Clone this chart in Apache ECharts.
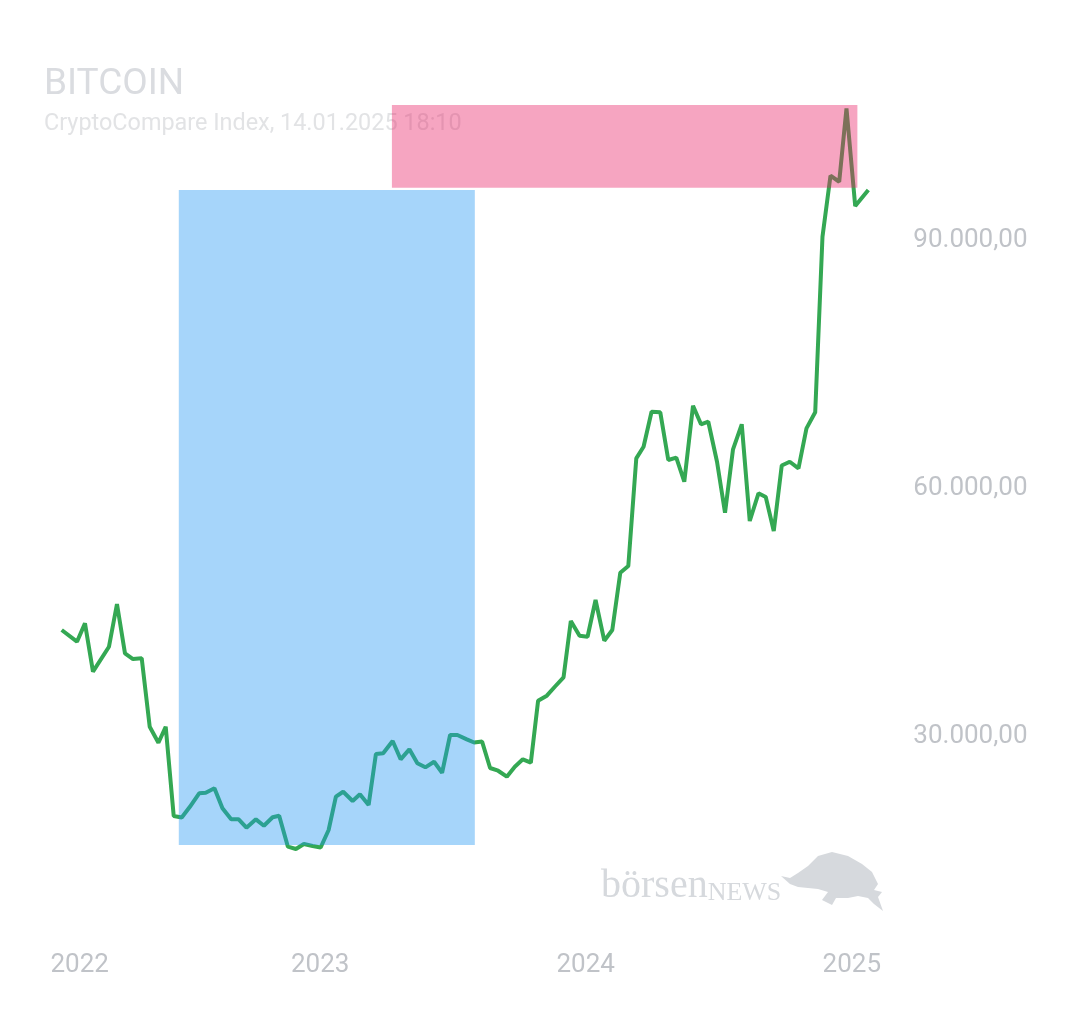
<!DOCTYPE html>
<html>
<head>
<meta charset="utf-8">
<title>Bitcoin</title>
<script src="https://cdn.jsdelivr.net/npm/echarts@6/dist/echarts.min.js"></script>
<style>
  html, body { margin: 0; padding: 0; background: #fff; }
  #chart { width: 1080px; height: 1013px; }
</style>
</head>
<body>
<div id="chart"></div>
<script>
  // Kursverlauf
  var dates = [
    '2022-01-01', '2022-01-22', '2022-02-02', '2022-02-13', '2022-03-07', '2022-03-18', '2022-03-29',
    '2022-04-09', '2022-04-21', '2022-05-02', '2022-05-14', '2022-05-24', '2022-06-04', '2022-06-15',
    '2022-06-26', '2022-07-09', '2022-07-18', '2022-07-30', '2022-08-10', '2022-08-22', '2022-09-01',
    '2022-09-12', '2022-09-25', '2022-10-06', '2022-10-18', '2022-10-27', '2022-11-08', '2022-11-19',
    '2022-11-30', '2022-12-12', '2022-12-23', '2023-01-03', '2023-01-13', '2023-01-23', '2023-02-05',
    '2023-02-15', '2023-02-27', '2023-03-09', '2023-03-19', '2023-04-01', '2023-04-12', '2023-04-24',
    '2023-05-05', '2023-05-16', '2023-05-28', '2023-06-08', '2023-06-19', '2023-06-29', '2023-07-12',
    '2023-07-22', '2023-08-02', '2023-08-13', '2023-08-24', '2023-09-05', '2023-09-16', '2023-09-27',
    '2023-10-08', '2023-10-18', '2023-10-30', '2023-11-10', '2023-11-22', '2023-12-02', '2023-12-14',
    '2023-12-25', '2024-01-05', '2024-01-17', '2024-01-28', '2024-02-08', '2024-02-19', '2024-03-01',
    '2024-03-11', '2024-03-22', '2024-04-03', '2024-04-14', '2024-04-25', '2024-05-06', '2024-05-18',
    '2024-05-29', '2024-06-08', '2024-06-20', '2024-07-01', '2024-07-12', '2024-07-24', '2024-08-04',
    '2024-08-16', '2024-08-26', '2024-09-06', '2024-09-17', '2024-09-28', '2024-10-10', '2024-10-21',
    '2024-11-02', '2024-11-12', '2024-11-23', '2024-12-05', '2024-12-15', '2024-12-27', '2025-01-14'
  ];
  var prices = [
    42820, 41410, 43630, 37780, 40800, 45970, 40000,
    39310, 39400, 31120, 29190, 31120, 20320, 20140,
    21410, 23070, 23140, 23670, 21250, 19920, 19940,
    18910, 19920, 19150, 20170, 20360, 16610, 16330,
    16940, 16690, 16510, 18630, 22660, 23260, 22140,
    22950, 21650, 27820, 27910, 29400, 27180, 28390,
    26700, 26210, 26890, 25560, 30120, 30120, 29600,
    29210, 29330, 26130, 25800, 25080, 26290, 27180,
    26770, 34270, 34880, 35960, 37100, 43910, 42130,
    42010, 46450, 41530, 42820, 49750, 50560, 63590,
    65000, 69230, 69160, 63390, 63670, 60760, 69960,
    67710, 68020, 63180, 57010, 64680, 67710, 56010,
    59360, 58910, 54800, 62720, 63180, 62380, 67220,
    69160, 90400, 97780, 97050, 105930, 94110, 96050
  ];

  // markierte Bereiche
  var boxFrom = ['2022-06-11', '2023-03-31'];
  var boxTo = ['2023-07-23', '2024-12-30'];
  var boxLow = [16810, 96330];
  var boxHigh = [96050, 106330];
  var boxColors = ['rgba(33,150,243,0.4)', 'rgba(233,30,99,0.4)'];

  var yTicks = [30000, 60000, 90000];
  var firstYear = 2022;

  var lineData = dates.map(function (d, i) { return [d, prices[i]]; });
  var boxData = boxFrom.map(function (d, i) { return [d, boxTo[i], boxLow[i], boxHigh[i]]; });

  function fmtDe(v) {
    return v.toLocaleString('de-DE', { minimumFractionDigits: 2, maximumFractionDigits: 2 });
  }

  var chart = echarts.init(document.getElementById('chart'));
  var option = {
    backgroundColor: '#fff',
    animation: false,
    title: {
      text: 'BITCOIN',
      subtext: 'CryptoCompare Index, 14.01.2025 18:10',
      left: 44,
      top: 66,
      padding: 0,
      itemGap: 10,
      z: 0,
      textStyle: { color: '#dadce0', fontSize: 37, fontWeight: 'normal', fontFamily: 'Roboto' },
      subtextStyle: { color: '#e2e3e5', fontSize: 23.4, fontFamily: 'Roboto' }
    },
    grid: { left: 61.7, right: 211.7, top: 74.7, bottom: 29 },
    xAxis: {
      type: 'time',
      min: '2022-01-01',
      max: '2025-01-14',
      axisLine: { show: false },
      axisTick: { show: false },
      splitLine: { show: false },
      axisLabel: {
        margin: -32,
        color: '#c0c3c8',
        fontSize: 26,
        fontFamily: 'Roboto',
        hideOverlap: false,
        formatter: function (val) {
          var d = new Date(val);
          if (d.getMonth() !== 0 || d.getDate() !== 1) return '';
          var y = d.getFullYear();
          return y === firstYear ? '{f|' + y + '}' : '{n|' + y + '}';
        },
        rich: {
          f: { color: '#c0c3c8', fontSize: 26, fontFamily: 'Roboto', padding: [0, 0, 0, 36] },
          n: { color: '#c0c3c8', fontSize: 26, fontFamily: 'Roboto', padding: [0, 14, 0, 0] }
        }
      }
    },
    yAxis: {
      type: 'value',
      position: 'right',
      min: 0,
      max: 110000,
      interval: 30000,
      axisLine: { show: false },
      axisTick: { show: false },
      splitLine: { show: false },
      axisLabel: {
        margin: 45,
        color: '#c0c3c8',
        fontSize: 26,
        fontFamily: 'Roboto',
        showMinLabel: false,
        showMaxLabel: false,
        formatter: function (v) { return yTicks.indexOf(v) >= 0 ? fmtDe(v) : ''; }
      }
    },
    graphic: [
      {
        type: 'text',
        left: 601,
        top: 866,
        z: 0,
        style: {
          text: '{a|börsen}{b|NEWS}',
          rich: {
            a: { fontFamily: 'Liberation Serif', fontSize: 40, lineHeight: 40, verticalAlign: 'bottom', fill: '#d6d9dd' },
            b: { fontFamily: 'Liberation Serif', fontSize: 26, lineHeight: 31, verticalAlign: 'bottom', fill: '#d6d9dd' }
          }
        }
      },
      {
        type: 'polygon',
        z: 0,
        shape: {
          points: [[781, 876], [790, 878], [798, 873], [808, 866], [818, 856], [832, 852], [848, 856],
            [862, 864], [872, 872], [878, 884], [874, 890], [882, 892], [878, 897], [883, 911],
            [874, 904], [868, 898], [858, 896], [848, 898], [836, 898], [832, 905], [822, 900],
            [828, 892], [818, 889], [808, 888], [798, 887], [790, 884]]
        },
        style: { fill: '#d6d9dd' }
      }
    ],
    series: [
      {
        type: 'line',
        data: lineData,
        symbol: 'none',
        z: 2,
        lineStyle: { color: '#34a853', width: 4 }
      },
      {
        type: 'custom',
        z: 10,
        silent: true,
        clip: false,
        dimensions: [{ name: 'from', type: 'time' }, { name: 'to', type: 'time' }, 'low', 'high'],
        encode: { x: [0, 1], y: [2, 3] },
        data: boxData,
        renderItem: function (params, api) {
          var p0 = api.coord([api.value(0), api.value(3)]);
          var p1 = api.coord([api.value(1), api.value(2)]);
          return {
            type: 'rect',
            shape: { x: p0[0], y: p0[1], width: p1[0] - p0[0], height: p1[1] - p0[1] },
            style: { fill: boxColors[params.dataIndex] }
          };
        }
      }
    ]
  };
  chart.setOption(option);
  window.addEventListener('resize', function () {
    chart.resize();
  });
</script>
</body>
</html>
